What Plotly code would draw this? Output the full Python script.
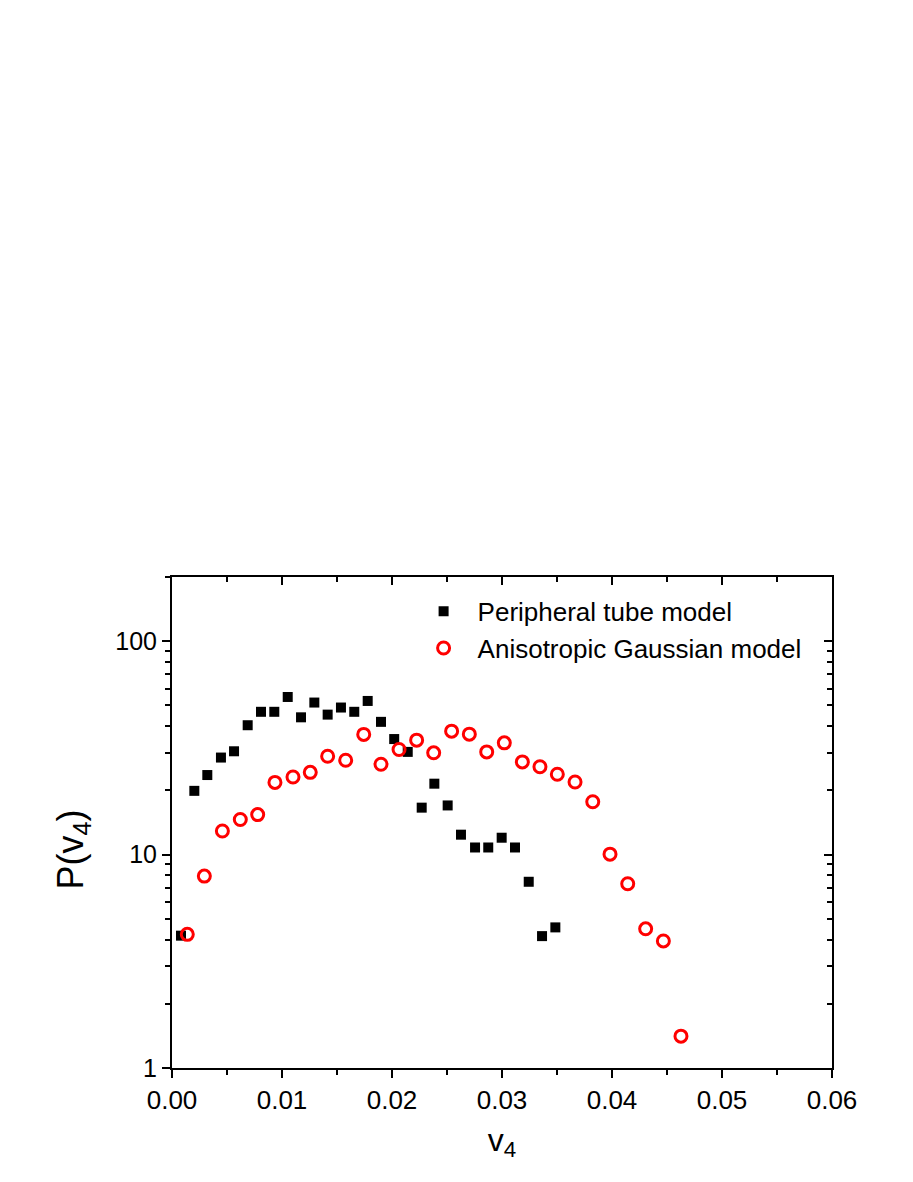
import plotly.graph_objects as go

# P(v4) distributions
tube_v4 = [0.00082, 0.00203, 0.00321, 0.00445, 0.00564, 0.00688, 0.00809, 0.0093,
           0.01052, 0.01173, 0.01294, 0.01415, 0.01536, 0.01657, 0.01779, 0.019,
           0.0202, 0.02143, 0.0227, 0.02385, 0.02506, 0.02627, 0.02755, 0.02875,
           0.02997, 0.03118, 0.03243, 0.03364, 0.03485]
tube_p = [4.17, 19.9, 23.6, 28.5, 30.5, 40.4, 46.7, 46.7, 54.8, 44.0, 51.6, 45.3,
          48.9, 46.7, 52.5, 41.9, 34.8, 30.3, 16.6, 21.5, 17.0, 12.4, 10.8, 10.8,
          12.0, 10.8, 7.46, 4.15, 4.56]

gauss_v4 = [0.00139, 0.00294, 0.00458, 0.00621, 0.00779, 0.00936, 0.0110, 0.01257,
            0.01415, 0.01579, 0.01743, 0.019, 0.02064, 0.02224, 0.02379, 0.02542,
            0.02703, 0.02861, 0.03021, 0.03185, 0.03345, 0.03503, 0.03664, 0.03825,
            0.03982, 0.04143, 0.04306, 0.04467, 0.04627]
gauss_p = [4.23, 7.93, 12.9, 14.6, 15.4, 21.8, 23.1, 24.3, 28.9, 27.7, 36.6, 26.5,
           31.1, 34.4, 30.0, 37.9, 36.7, 30.3, 33.4, 27.2, 25.8, 23.8, 21.9, 17.7,
           10.05, 7.30, 4.49, 3.94, 1.41]

y_major = [1, 10, 100]
y_minor = [2, 3, 4, 5, 6, 7, 8, 9, 20, 30, 40, 50, 60, 70, 80, 90, 200]

FONT = "Liberation Sans, Arial, sans-serif"
Y_RANGE = [0, 2.30103]

fig = go.Figure()
fig.add_trace(go.Scatter(x=tube_v4, y=tube_p, mode="markers", name="Peripheral tube model",
                         marker=dict(symbol="square", size=10, color="black")))
fig.add_trace(go.Scatter(x=gauss_v4, y=gauss_p, mode="markers", name="Anisotropic Gaussian model",
                         marker=dict(symbol="circle-open", size=12, color="red",
                                     line=dict(width=3, color="red"))))
# empty trace so the top/right tick axes get drawn
fig.add_trace(go.Scatter(x=[None], y=[None], xaxis="x2", yaxis="y2", showlegend=False))

# page body has an 8px margin, so the figure is sized to fit inside the window
fig.update_layout(
    width=905, height=1174,
    margin=dict(l=164, r=81, t=569, b=114),
    paper_bgcolor="white", plot_bgcolor="white",
    font=dict(family=FONT, color="black"),
    showlegend=True,
    legend=dict(x=0.36, y=0.978, xanchor="left", yanchor="top",
                bgcolor="rgba(0,0,0,0)", font=dict(size=26, family=FONT),
                itemwidth=58, tracegroupgap=0),
    xaxis=dict(range=[0, 0.06], dtick=0.01, tick0=0, tickformat=".2f",
               showgrid=False, zeroline=False, showline=True, linecolor="black",
               linewidth=2, mirror=True, ticks="outside", ticklen=8, tickwidth=2,
               tickcolor="black", tickfont=dict(size=26),
               minor=dict(dtick=0.005, tick0=0, ticks="outside", ticklen=5,
                          tickwidth=2, tickcolor="black", showgrid=False),
               title=dict(text="v<sub>4</sub>", font=dict(size=32), standoff=14)),
    yaxis=dict(type="log", range=Y_RANGE, tickvals=y_major,
               ticktext=[str(v) for v in y_major],
               showgrid=False, zeroline=False, showline=True, linecolor="black",
               linewidth=2, mirror=True, ticks="outside", ticklen=8, tickwidth=2,
               tickcolor="black", tickfont=dict(size=25),
               minor=dict(tickvals=y_minor, ticks="outside", ticklen=5,
                          tickwidth=2, tickcolor="black", showgrid=False)),
    xaxis2=dict(overlaying="x", side="top", anchor="y2", range=[0, 0.06],
                dtick=0.01, tick0=0, showticklabels=False, showgrid=False,
                zeroline=False, showline=False, ticks="inside", ticklen=8,
                tickwidth=2, tickcolor="black",
                minor=dict(dtick=0.005, tick0=0, ticks="inside", ticklen=5,
                           tickwidth=2, tickcolor="black", showgrid=False)),
    yaxis2=dict(overlaying="y", side="right", anchor="x2", type="log", range=Y_RANGE,
                tickvals=y_major, showticklabels=False, showgrid=False,
                zeroline=False, showline=False, ticks="inside", ticklen=8,
                tickwidth=2, tickcolor="black",
                minor=dict(tickvals=y_minor, ticks="inside", ticklen=5,
                           tickwidth=2, tickcolor="black", showgrid=False)),
)

fig.add_annotation(text="P(v<sub>4</sub>)", textangle=-90, xref="paper", yref="paper",
                   x=-0.15, y=0.445, xanchor="center", yanchor="middle",
                   showarrow=False, font=dict(size=36, family=FONT, color="black"))

fig.write_html("out.html")
